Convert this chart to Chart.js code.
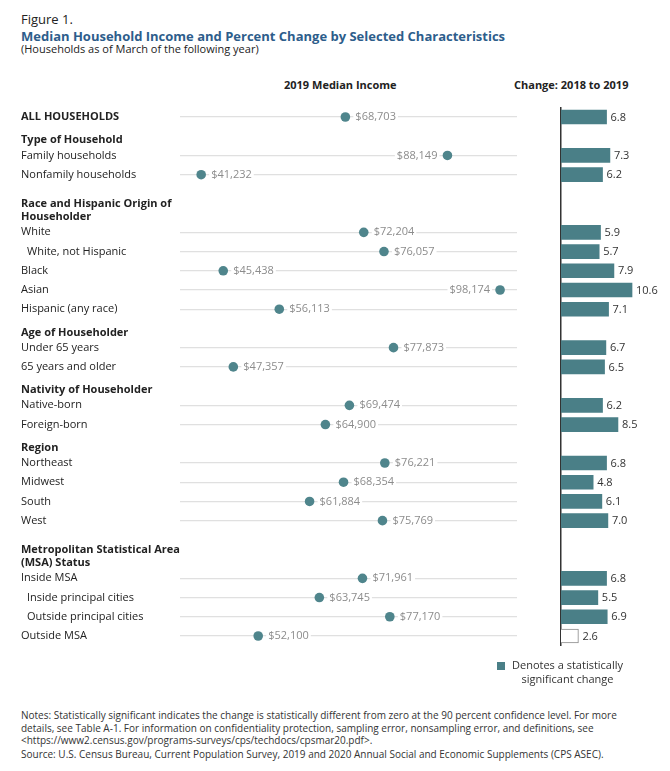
<!DOCTYPE html>
<html>
<head>
<meta charset="utf-8">
<script src="https://cdn.jsdelivr.net/npm/chart.js@4.4.1/dist/chart.umd.min.js"></script>
<style>
  body { margin: 0; background: #fff; font-family: "Open Sans", sans-serif; color: #222; }
  #wrap { position: relative; width: 670px; height: 771px; overflow: hidden; }
  .abs { position: absolute; white-space: nowrap; }
  #fig { left: 21px; top: 10px; font-size: 13px; line-height: 18px; }
  #title { left: 21px; top: 27px; font-size: 13px; line-height: 18px; font-weight: 700; color: #2d5d8b; }
  #sub { left: 21px; top: 42px; font-size: 11px; line-height: 14px; }
  .colhead { top: 77px; font-size: 11px; line-height: 16px; font-weight: 700; }
  #h1 { left: 284px; }
  #h2 { left: 514px; }
  #incomeChart { position: absolute; left: 0; top: 100px; }
  #changeChart { position: absolute; left: 540px; top: 100px; }
  #swatch { left: 497px; top: 662px; width: 8px; height: 8px; background: #4a7f87; }
  #legend { left: 512px; top: 658px; font-size: 11px; line-height: 14px; color: #333; text-align: center; }
  #notes { left: 21px; top: 709px; font-size: 10px; line-height: 12.6px; color: #333; }
  #notes p { margin: 0 0 1.5px 0; }
</style>
</head>
<body>
<div id="wrap">
  <div class="abs" id="fig">Figure 1.</div>
  <div class="abs" id="title">Median Household Income and Percent Change by Selected Characteristics</div>
  <div class="abs" id="sub">(Households as of March of the following year)</div>
  <div class="abs colhead" id="h1">2019 Median Income</div>
  <div class="abs colhead" id="h2">Change: 2018 to 2019</div>
  <canvas id="incomeChart" width="540" height="560"></canvas>
  <canvas id="changeChart" width="130" height="560"></canvas>
  <div class="abs" id="swatch"></div>
  <div class="abs" id="legend">Denotes a statistically<br>significant change</div>
  <div class="abs" id="notes">
    <p>Notes: Statistically significant indicates the change is statistically different from zero at the 90 percent confidence level. For more<br>details, see Table A-1. For information on confidentiality protection, sampling error, nonsampling error, and definitions, see<br>&lt;https://www2.census.gov/programs-surveys/cps/techdocs/cpsmar20.pdf&gt;.</p>
    <p>Source: U.S. Census Bureau, Current Population Survey, 2019 and 2020 Annual Social and Economic Supplements (CPS ASEC).</p>
  </div>
</div>
<script>
// rows of the figure, top to bottom; section headings have no values
const categories = [
  "ALL HOUSEHOLDS",
  "Type of Household", "Family households", "Nonfamily households",
  "Race and Hispanic Origin of", "Householder",
  "White", "White, not Hispanic", "Black", "Asian", "Hispanic (any race)",
  "Age of Householder", "Under 65 years", "65 years and older",
  "Nativity of Householder", "Native-born", "Foreign-born",
  "Region", "Northeast", "Midwest", "South", "West",
  "Metropolitan Statistical Area", "(MSA) Status",
  "Inside MSA", "Inside principal cities", "Outside principal cities", "Outside MSA"
];

const income2019 = [
  68703,
  null, 88149, 41232,
  null, null,
  72204, 76057, 45438, 98174, 56113,
  null, 77873, 47357,
  null, 69474, 64900,
  null, 76221, 68354, 61884, 75769,
  null, null,
  71961, 63745, 77170, 52100
];

const change2018to2019 = [
  6.8,
  null, 7.3, 6.2,
  null, null,
  5.9, 5.7, 7.9, 10.6, 7.1,
  null, 6.7, 6.5,
  null, 6.2, 8.5,
  null, 6.8, 4.8, 6.1, 7.0,
  null, null,
  6.8, 5.5, 6.9, 2.6
];

const significant = [
  true,
  null, true, true,
  null, null,
  true, true, true, true, true,
  null, true, true,
  null, true, true,
  null, true, true, true, true,
  null, null,
  true, true, true, false
];

const indented = ["White, not Hispanic", "Inside principal cities", "Outside principal cities"];

const teal = "#4a7f87";
const dotColor = "#4f858c";
const labelFont = '"Open Sans", sans-serif';

function isHeader(i) {
  return i > 0 && income2019[i] == null;
}

// row names on the left, drawn at the category positions of the y scale
const rowLabels = {
  id: "rowLabels",
  afterDraw(chart) {
    let ctx = chart.ctx;
    let y = chart.scales.y;
    ctx.save();
    ctx.textBaseline = "middle";
    ctx.textAlign = "left";
    ctx.fillStyle = "#222";
    function headY(i) {
      if (isHeader(i + 1)) return headY(i + 1) - 13;
      return y.getPixelForValue(i) + 4;
    }
    categories.forEach((name, i) => {
      let py = y.getPixelForValue(i);
      let px = indented.includes(name) ? 27 : 21;
      if (isHeader(i)) {
        ctx.font = "bold 11px " + labelFont;
        py = headY(i);
      } else if (i === 0) {
        ctx.font = "bold 11px " + labelFont;
      } else {
        ctx.font = "11px " + labelFont;
      }
      ctx.fillText(name, px, py);
    });
    ctx.restore();
  }
};

// dollar labels next to each dot, on a white patch over the grid line
const incomeLabels = {
  id: "incomeLabels",
  afterDatasetsDraw(chart) {
    let ctx = chart.ctx;
    let meta = chart.getDatasetMeta(0);
    ctx.save();
    ctx.font = "11px " + labelFont;
    ctx.textBaseline = "middle";
    meta.data.forEach((pt, i) => {
      let v = income2019[i];
      if (v == null) return;
      let text = "$" + v.toLocaleString("en-US");
      let w = ctx.measureText(text).width;
      let left = v > 85000;
      let tx = left ? pt.x - 10 - w : pt.x + 10;
      ctx.fillStyle = "#fff";
      ctx.fillRect(tx - 2, pt.y - 5, w + 4, 10);
      ctx.fillStyle = "#8c8c8c";
      ctx.textAlign = "left";
      ctx.fillText(text, tx, pt.y);
    });
    ctx.restore();
  }
};

const changeLabels = {
  id: "changeLabels",
  afterDatasetsDraw(chart) {
    let ctx = chart.ctx;
    let meta = chart.getDatasetMeta(0);
    ctx.save();
    ctx.font = "11px " + labelFont;
    ctx.textBaseline = "middle";
    ctx.textAlign = "left";
    ctx.fillStyle = "#333";
    meta.data.forEach((bar, i) => {
      let v = change2018to2019[i];
      if (v == null) return;
      ctx.fillText(v.toFixed(1), bar.x + 4, bar.y + 0.5);
    });
    ctx.restore();
  }
};

new Chart(document.getElementById("incomeChart").getContext("2d"), {
  type: "line",
  data: {
    labels: categories,
    datasets: [{
      data: income2019,
      showLine: false,
      pointRadius: 4.8,
      pointHoverRadius: 4.8,
      pointBackgroundColor: dotColor,
      pointBorderWidth: 0
    }]
  },
  options: {
    indexAxis: "y",
    responsive: false,
    animation: false,
    layout: { padding: { left: 180, right: 23, top: 7.4, bottom: 14.4 } },
    scales: {
      x: { display: false, min: 37200, max: 101400 },
      y: {
        offset: true,
        border: { display: false },
        ticks: { display: false },
        grid: {
          drawTicks: false,
          lineWidth: 1.3,
          color: (c) => (c.index > 0 && income2019[c.index] == null) ? "rgba(0,0,0,0)" : "#e0e0e0"
        }
      }
    },
    plugins: { legend: { display: false }, tooltip: { enabled: false } }
  },
  plugins: [rowLabels, incomeLabels]
});

new Chart(document.getElementById("changeChart").getContext("2d"), {
  type: "bar",
  data: {
    labels: categories,
    datasets: [{
      data: change2018to2019,
      barThickness: 14,
      backgroundColor: significant.map(s => s === false ? "#fff" : teal),
      borderColor: significant.map(s => s === false ? "#8a8a8a" : teal),
      borderWidth: significant.map(s => s === false ? 1 : 0)
    }]
  },
  options: {
    indexAxis: "y",
    responsive: false,
    animation: false,
    layout: { padding: { left: 21, right: 28.6, top: 7.4, bottom: 14.4 } },
    scales: {
      x: { display: false, min: 0, max: 12 },
      y: {
        offset: true,
        ticks: { display: false },
        grid: { display: false, drawTicks: false },
        border: { display: true, color: "#333", width: 1.5 }
      }
    },
    plugins: { legend: { display: false }, tooltip: { enabled: false } }
  },
  plugins: [changeLabels]
});
</script>
</body>
</html>
